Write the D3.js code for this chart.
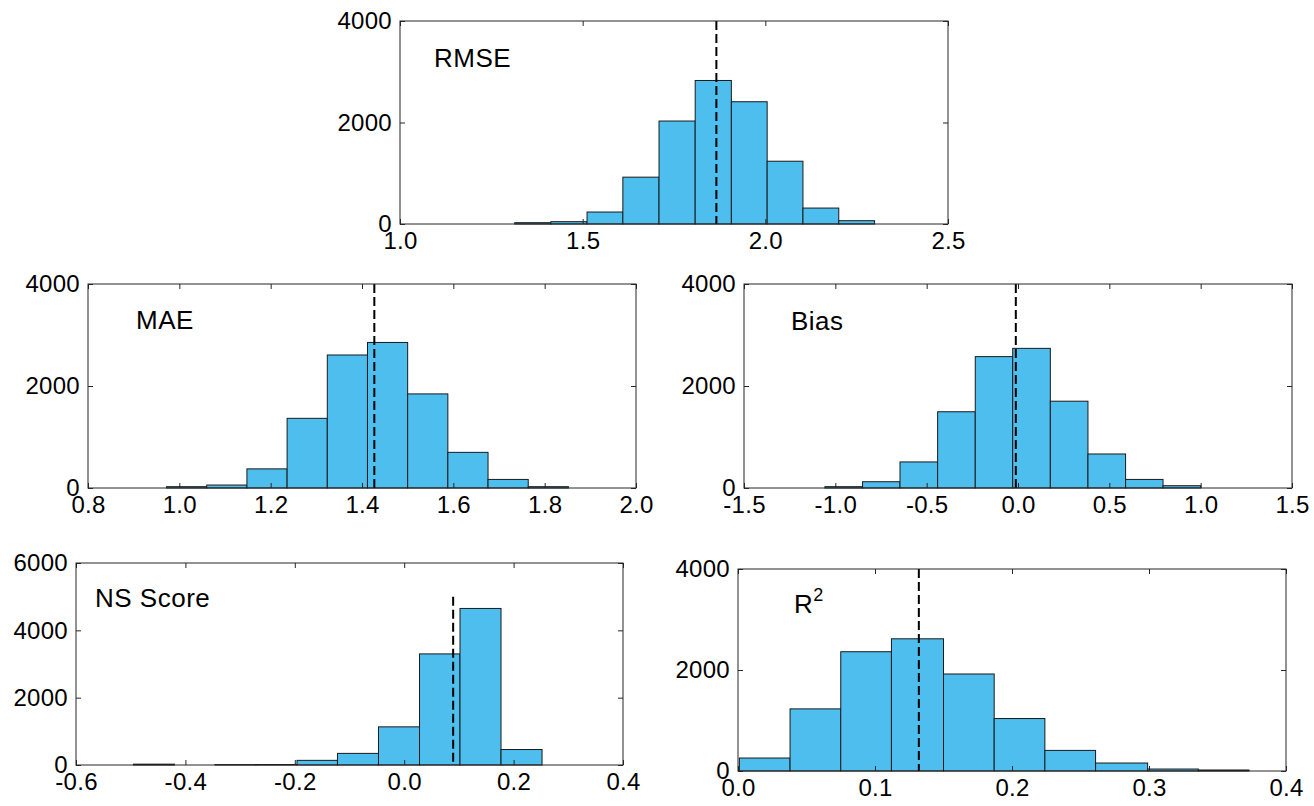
<!DOCTYPE html>
<html>
<head>
<meta charset="utf-8">
<script src="https://cdn.jsdelivr.net/npm/d3@7"></script>
<style>
  body { margin: 0; background: #fff; }
  text { font-family: "Liberation Sans", Arial, sans-serif; fill: #000; }
</style>
</head>
<body>
<svg id="chart" width="1314" height="806"></svg>
<script>
// histogram data
var rmseEdges  = [1.314, 1.413, 1.512, 1.610, 1.709, 1.808, 1.907, 2.005, 2.103, 2.201, 2.299];
var rmseCounts = [26, 46, 236, 923, 2029, 2828, 2409, 1237, 314, 65];

var maeEdges  = [0.972, 1.060, 1.148, 1.236, 1.324, 1.412, 1.500, 1.588, 1.676, 1.764, 1.852];
var maeCounts = [26, 58, 375, 1366, 2608, 2854, 1845, 699, 168, 26];

var biasEdges  = [-1.057, -0.851, -0.646, -0.440, -0.234, -0.029, 0.177, 0.383, 0.589, 0.794, 1.000];
var biasCounts = [26, 123, 511, 1495, 2576, 2738, 1702, 667, 168, 45];

var nsEdges  = [-0.495, -0.420, -0.346, -0.271, -0.196, -0.122, -0.047, 0.028, 0.102, 0.177, 0.252];
var nsCounts = [25, 0, 12, 15, 138, 345, 1133, 3300, 4650, 460];

var r2Edges  = [0.001, 0.038, 0.075, 0.112, 0.150, 0.187, 0.224, 0.261, 0.299, 0.336, 0.373];
var r2Counts = [257, 1230, 2362, 2618, 1921, 1039, 408, 158, 39, 20];

var titles = ["RMSE", "MAE", "Bias", "NS Score", "R2"];
var xDomains = [[1.0, 2.5], [0.8, 2.0], [-1.5, 1.5], [-0.6, 0.4], [0.0, 0.4]];
var xTicks = [
    [1.0, 1.5, 2.0, 2.5],
    [0.8, 1.0, 1.2, 1.4, 1.6, 1.8, 2.0],
    [-1.5, -1.0, -0.5, 0.0, 0.5, 1.0, 1.5],
    [-0.6, -0.4, -0.2, 0.0, 0.2, 0.4],
    [0.0, 0.1, 0.2, 0.3, 0.4]
];
var yMaxes = [4000, 4000, 4000, 6000, 4000];
var yTicks = [
    [0, 2000, 4000],
    [0, 2000, 4000],
    [0, 2000, 4000],
    [0, 2000, 4000, 6000],
    [0, 2000, 4000]
];
var meanValues = [1.866, 1.427, -0.012, 0.0895, 0.132];
var meanLineTops = [4000, 4000, 4000, 5000, 4000];

var allEdges = [rmseEdges, maeEdges, biasEdges, nsEdges, r2Edges];
var allCounts = [rmseCounts, maeCounts, biasCounts, nsCounts, r2Counts];

// axes boxes: left, top, width, height
var boxes = [
    [400, 21, 548, 203],
    [88, 284, 548, 204],
    [744, 284, 548, 204],
    [76, 563, 547, 202],
    [738, 569, 548, 202]
];
var titleOffsets = [[34, 46], [48, 45], [47, 46], [19, 44], [56, 44]];

var barFill = "#4dbeee";
var fmt = d3.format(".1f");

var svg = d3.select("#chart");

boxes.forEach(function (b, i) {
    var w = b[2], h = b[3];
    var g = svg.append("g")
            .attr("transform", "translate(" + b[0] + "," + b[1] + ")");

    var x = d3.scaleLinear().domain(xDomains[i]).range([0, w]);
    var y = d3.scaleLinear().domain([0, yMaxes[i]]).range([h, 0]);

    var edges = allEdges[i];
    var bins = allCounts[i].map(function (c, k) {
        return {x0: edges[k], x1: edges[k + 1], count: c};
    });

    g.selectAll("rect.bar")
            .data(bins.filter(function (d) { return d.count > 0; }))
            .enter().append("rect")
            .attr("class", "bar")
            .attr("x", function (d) { return x(d.x0); })
            .attr("y", function (d) { return y(d.count); })
            .attr("width", function (d) { return x(d.x1) - x(d.x0); })
            .attr("height", function (d) { return y(0) - y(d.count); })
            .attr("fill", barFill)
            .attr("stroke", "#1a1a1a")
            .attr("stroke-width", 1);

    // mean line
    g.append("line")
            .attr("x1", x(meanValues[i]))
            .attr("x2", x(meanValues[i]))
            .attr("y1", y(meanLineTops[i]))
            .attr("y2", y(0))
            .attr("stroke", "#000")
            .attr("stroke-width", 2)
            .attr("stroke-dasharray", "9,4");

    // axes, ticks pointing inward like a boxed matlab plot
    g.append("g")
            .attr("transform", "translate(0," + h + ")")
            .call(d3.axisBottom(x).tickValues(xTicks[i]).tickSize(-5).tickPadding(8)
                    .tickFormat(function (d) { return fmt(d).replace("\u2212", "-"); }));
    g.append("g")
            .call(d3.axisTop(x).tickValues(xTicks[i]).tickSize(-5).tickFormat(""));
    g.append("g")
            .call(d3.axisLeft(y).tickValues(yTicks[i]).tickSize(-5).tickPadding(8)
                    .tickFormat(d3.format("d")));
    g.append("g")
            .attr("transform", "translate(" + w + ",0)")
            .call(d3.axisRight(y).tickValues(yTicks[i]).tickSize(-5).tickFormat(""));

    g.selectAll(".domain").remove();
    g.selectAll(".tick line").attr("stroke", "#262626");
    g.selectAll(".tick text")
            .attr("font-size", 24)
            .attr("font-family", "'Liberation Sans', Arial, sans-serif")
            .attr("letter-spacing", "0.3px")
            .attr("fill", "#000");

    g.append("rect")
            .attr("width", w)
            .attr("height", h)
            .attr("fill", "none")
            .attr("stroke", "#262626")
            .attr("stroke-width", 1);

    var t = g.append("text")
            .attr("x", titleOffsets[i][0])
            .attr("y", titleOffsets[i][1])
            .attr("font-size", 26)
            .attr("letter-spacing", "0.5px");
    if (titles[i] === "R2") {
        t.append("tspan").text("R");
        t.append("tspan").attr("font-size", 18).attr("dy", -12).text("2");
    } else {
        t.text(titles[i]);
    }
});
</script>
</body>
</html>
